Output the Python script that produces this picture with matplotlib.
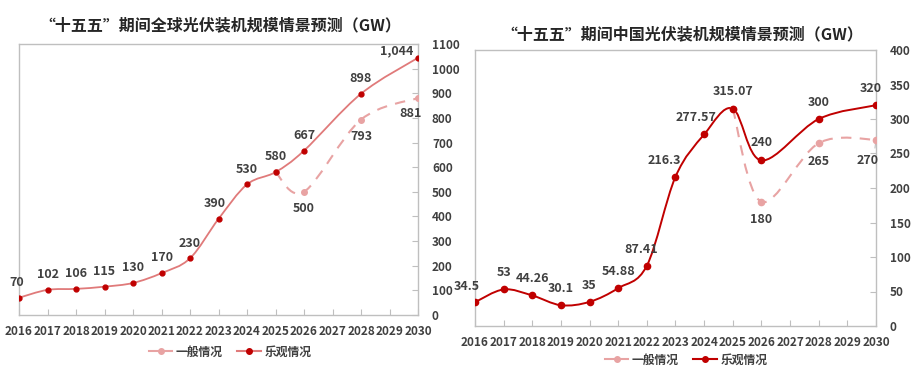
import numpy as np
import matplotlib
matplotlib.use("Agg")
import matplotlib.pyplot as plt
from matplotlib.path import Path
from matplotlib.patches import PathPatch
from matplotlib.lines import Line2D

plt.rcParams['font.family'] = ['Noto Sans CJK SC', 'DejaVu Sans']

years = [str(y) for y in range(2016, 2031)]

# global (left)
g_opt_x = [2016, 2017, 2018, 2019, 2020, 2021, 2022, 2023, 2024, 2025, 2026, 2028, 2030]
g_opt_y = [70, 102, 106, 115, 130, 170, 230, 390, 530, 580, 667, 898, 1044]
g_opt_lbl = ["70", "102", "106", "115", "130", "170", "230", "390", "530", "580", "667", "898", "1,044"]
g_gen_x = [2025, 2026, 2028, 2030]
g_gen_y = [580, 500, 793, 881]
g_gen_lbl = [None, "500", "793", "881"]

# china (right)
c_opt_x = [2016, 2017, 2018, 2019, 2020, 2021, 2022, 2023, 2024, 2025, 2026, 2028, 2030]
c_opt_y = [34.5, 53, 44.26, 30.1, 35, 54.88, 87.41, 216.3, 277.57, 315.07, 240, 300, 320]
c_opt_lbl = ["34.5", "53", "44.26", "30.1", "35", "54.88", "87.41", "216.3", "277.57", "315.07", "240", "300", "320"]
c_gen_x = [2025, 2026, 2028, 2030]
c_gen_y = [315.07, 180, 265, 270]
c_gen_lbl = [None, "180", "265", "270"]

DARK = "#C00000"
LIGHT = "#E07A7A"
PINK = "#E8A3A3"
TXT = "#404040"
GRID = "#BFBFBF"


def smooth_path(xs, ys):
    # Excel-like smoothed line as cubic bezier segments
    x = np.array(xs, float) - 2016
    y = np.array(ys, float)
    n = len(x)
    verts = [(x[0], y[0])]
    codes = [Path.MOVETO]
    for i in range(n - 1):
        p0 = np.array([x[max(i - 1, 0)], y[max(i - 1, 0)]])
        p1 = np.array([x[i], y[i]])
        p2 = np.array([x[i + 1], y[i + 1]])
        p3 = np.array([x[min(i + 2, n - 1)], y[min(i + 2, n - 1)]])
        c1 = p1 + (p2 - p0) / 6
        c2 = p2 - (p3 - p1) / 6
        verts += [tuple(c1), tuple(c2), tuple(p2)]
        codes += [Path.CURVE4] * 3
    return Path(verts, codes)


def draw_series(ax, xs, ys, color, mcolor, ls, lw, ms):
    ax.add_patch(PathPatch(smooth_path(xs, ys), fill=False, edgecolor=color,
                           lw=lw, ls=ls, zorder=3))
    ax.plot(np.array(xs) - 2016, ys, ls='none', marker='o', color=mcolor, ms=ms, zorder=4)


def style_axes(ax, ymax, ystep):
    ax.set_xlim(0, 14)
    ax.set_ylim(0, ymax)
    ax.set_xticks(range(15))
    ax.set_xticklabels(years)
    ax.set_yticks(np.arange(0, ymax + 1, ystep))
    ax.yaxis.tick_right()
    for s in ax.spines.values():
        s.set_color(GRID)
        s.set_linewidth(1)
    ax.tick_params(axis='x', direction='in', length=4, color=GRID, pad=7,
                   labelsize=8.5, labelcolor=TXT)
    ax.tick_params(axis='y', direction='in', length=4, color=GRID, pad=10,
                   labelsize=8.5, labelcolor=TXT)
    for t in ax.get_xticklabels() + ax.get_yticklabels():
        t.set_fontweight('bold')


def label(ax, x, y, s, dx, dy):
    ax.annotate(s, (x - 2016, y), xytext=(dx, dy), textcoords='offset points',
                ha='center', va='center', fontsize=9, fontweight='bold', color=TXT,
                zorder=5, annotation_clip=False)


fig = plt.figure(figsize=(9.17, 3.68), dpi=100)

# left chart
ax1 = fig.add_axes([19 / 917, 53 / 368, 399 / 917, 271 / 368])
style_axes(ax1, 1100, 100)
draw_series(ax1, g_gen_x, g_gen_y, PINK, PINK, (0, (5, 4)), 1.5, 4)
draw_series(ax1, g_opt_x, g_opt_y, LIGHT, DARK, '-', 1.3, 3.5)
off1 = [(-2, 11), (0, 11), (0, 11), (0, 11), (0, 11), (0, 11), (0, 11), (-3, 11),
        (0, 11), (0, 11), (0, 11), (0, 11), (-15, 5)]
for x, y, s, (dx, dy) in zip(g_opt_x, g_opt_y, g_opt_lbl, off1):
    label(ax1, x, y, s, dx, dy)
off1g = [None, (0, -12), (0, -12), (-5, -11)]
for x, y, s, o in zip(g_gen_x, g_gen_y, g_gen_lbl, off1g):
    if s:
        label(ax1, x, y, s, o[0], o[1])
fig.text(220 / 917, 1 - 25 / 368, "“十五五”期间全球光伏装机规模情景预测（GW）",
         ha='center', va='center', fontsize=11.5, fontweight='bold', color='#262626')

# right chart
ax2 = fig.add_axes([475 / 917, 42 / 368, 401 / 917, 276 / 368])
style_axes(ax2, 400, 50)
draw_series(ax2, c_gen_x, c_gen_y, PINK, PINK, (0, (5, 4)), 1.5, 4.5)
draw_series(ax2, c_opt_x, c_opt_y, DARK, DARK, '-', 1.4, 4.5)
off2 = [(-6, 11), (0, 12), (0, 12), (0, 12), (0, 12), (0, 12), (-4, 12), (-8, 12),
        (-6, 12), (0, 12), (0, 13), (0, 12), (-4, 12)]
for x, y, s, (dx, dy) in zip(c_opt_x, c_opt_y, c_opt_lbl, off2):
    label(ax2, x, y, s, dx, dy)
off2g = [None, (0, -13), (0, -13), (-6, -15)]
for x, y, s, o in zip(c_gen_x, c_gen_y, c_gen_lbl, off2g):
    if s:
        label(ax2, x, y, s, o[0], o[1])
ax2.annotate("", (14, 270), xytext=(-1, -8), textcoords='offset points',
             arrowprops=dict(arrowstyle='-', color=GRID, lw=0.8))
fig.text(682 / 917, 1 - 34 / 368, "“十五五”期间中国光伏装机规模情景预测（GW）",
         ha='center', va='center', fontsize=11.5, fontweight='bold', color='#262626')

# legends
def legend_handles(opt_line_color):
    return [Line2D([], [], color=PINK, marker='o', ms=4, lw=1.5),
            Line2D([], [], color=opt_line_color, marker='o', markerfacecolor=DARK,
                   markeredgecolor=DARK, ms=4, lw=1.5)]

names = ["一般情况", "乐观情况"]
leg1 = fig.legend(legend_handles(LIGHT), names, loc='center', bbox_to_anchor=(230 / 917, 1 - 352 / 368),
                  ncol=2, frameon=False, fontsize=8.5, handlelength=2, columnspacing=1.2,
                  handletextpad=0.3)
leg2 = fig.legend(legend_handles(DARK), names, loc='center', bbox_to_anchor=(686 / 917, 1 - 360 / 368),
                  ncol=2, frameon=False, fontsize=8.5, handlelength=2, columnspacing=1.2,
                  handletextpad=0.3)
for leg in (leg1, leg2):
    for t in leg.get_texts():
        t.set_fontweight('bold')
        t.set_color(TXT)

fig.savefig("out.png", dpi=100)
